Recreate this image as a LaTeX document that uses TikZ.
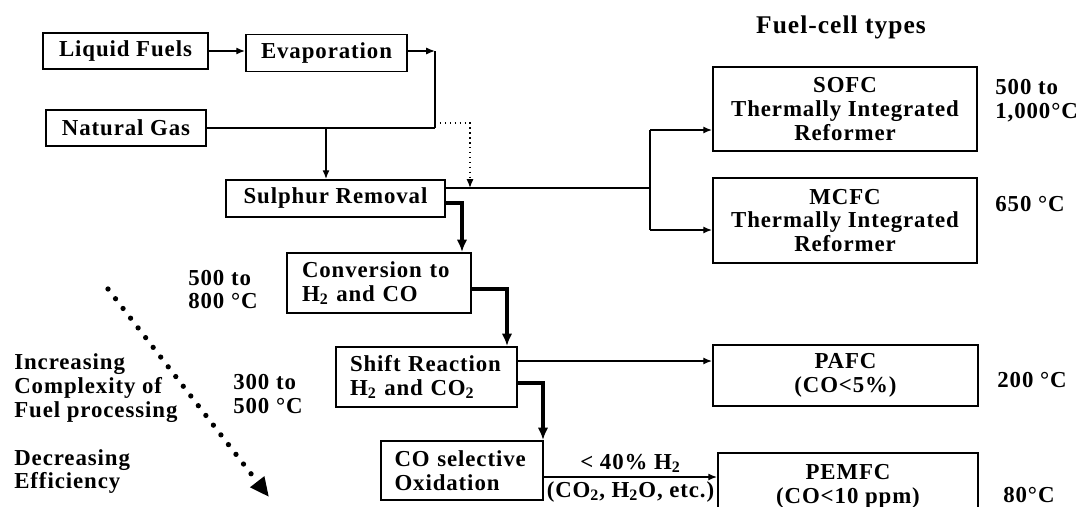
\documentclass[tikz,border=0pt]{standalone}
\usepackage{fontspec}
\setmainfont{Liberation Serif}[LetterSpace=4]
\usetikzlibrary{arrows.meta}

\tikzset{
  box/.style={draw, line width=1.1pt, inner sep=0pt, align=center},
  lbox/.style={box, align=left},
  lbl/.style={inner sep=0pt, anchor=west, align=left},
  arr/.style={line width=0.8pt, -{Latex[length=5pt,width=4pt]}},
  thk/.style={line width=2.4pt, -{Latex[length=7pt,width=6pt]}},
}

\begin{document}
\begin{tikzpicture}[x=0.02cm, y=-0.02cm, every node/.style={font=\fontsize{13}{13.6}\selectfont\bfseries}]
    \clip (0,0) rectangle (1080,507);

    % Brennstoffe
    \node[box, minimum width=3.3cm, minimum height=0.72cm] (lf) at (125.5,51) {Liquid Fuels};
    \node[box, minimum width=3.22cm, minimum height=0.74cm] (evap) at (326.5,53) {Evaporation};
    \node[box, minimum width=3.2cm, minimum height=0.72cm] (ng) at (126,128) {Natural Gas};

    % Aufbereitung
    \node[box, minimum width=4.38cm, minimum height=0.74cm] (sulph) at (335.5,198.5) {Sulphur Removal};
    \node[lbox, minimum width=3.68cm, minimum height=1.2cm, text width=3.08cm] (conv) at (379,283) {Conversion to\\H\textsubscript{2} and CO};
    \node[lbox, minimum width=3.62cm, minimum height=1.2cm, text width=3.06cm] (shift) at (426.5,377) {Shift Reaction\\H\textsubscript{2} and CO\textsubscript{2}};
    \node[lbox, minimum width=3.24cm, minimum height=1.18cm, text width=2.7cm] (coox) at (462,470.5) {CO selective\\Oxidation};

    % Brennstoffzellen
    \node[font=\fontsize{14.5}{15}\selectfont\bfseries] (title) at (841,27) {Fuel-cell types};
    \node[box, minimum width=5.28cm, minimum height=1.68cm] (sofc) at (845,109) {SOFC\\Thermally Integrated\\Reformer};
    \node[box, minimum width=5.28cm, minimum height=1.7cm] (mcfc) at (845,220.5) {MCFC\\Thermally Integrated\\Reformer};
    \node[box, minimum width=5.3cm, minimum height=1.22cm] (pafc) at (845.5,375.5) {PAFC\\(CO<5\%)};
    \node[box, minimum width=5.2cm, minimum height=1.34cm] (pemfc) at (848,486.5) {PEMFC\\(CO<10 ppm)};

    % Temperaturen
    \node[lbl] (t500) at (188,289.5) {500 to\\800 °C};
    \node[lbl] (t300) at (233,394) {300 to\\500 °C};
    \node[lbl] (tsofc) at (995,101) {500 to\\1,000°C};
    \node[lbl] (tmcfc) at (995,204) {650 °C};
    \node[lbl] (tpafc) at (997,380) {200 °C};
    \node[lbl] (tpem) at (1003,495) {80°C};

    % Trend
    \node[lbl] (incr) at (14,388) {Increasing\\Complexity of\\Fuel processing};
    \node[lbl] (decr) at (14,471.5) {Decreasing\\Efficiency};
    \coordinate (da) at (108,289);
    \coordinate (db) at (269,497);
    \draw[line width=3pt, line cap=round, dash pattern=on 0pt off 7pt,
          -{Triangle[length=11pt,width=9.5pt]}] (da) -- (db);

    % Hilfspunkte
    \coordinate (j1) at (435,51);
    \coordinate (j2) at (435,128);
    \coordinate (j3) at (326,128);
    \coordinate (d1) at (435,123);
    \coordinate (d2) at (470,123);
    \coordinate (d3) at (470,188);
    \coordinate (b1) at (650,188);
    \coordinate (b2) at (650,130);
    \coordinate (b3) at (650,230);
    \coordinate (t1) at (462,203);
    \coordinate (t2) at (507,289);
    \coordinate (t3) at (543,383);
    \coordinate (p1) at (600,361);
    \coordinate (q1) at (600,477);

    % Zuleitungen
    \draw[arr] (lf.east) -- (evap.west |- lf.east);
    \draw[arr] (evap.east |- j1) -- (j1);
    \draw[line width=0.8pt] (j1) -- (j2);
    \draw[line width=0.8pt] (ng.east) -- (j2);
    \draw[arr] (j3) -- (j3 |- sulph.north);
    \draw[arr, dotted] (d1) -- (d2) -- (d3);

    % Verteilung
    \draw[line width=0.8pt] (sulph.east |- b1) -- (b1);
    \draw[line width=0.8pt] (b2) -- (b3);
    \draw[arr] (b2) -- (sofc.west |- b2);
    \draw[arr] (b3) -- (mcfc.west |- b3);

    % Hauptstrang
    \draw[thk] (sulph.east |- t1) -- (t1) -- (t1 |- conv.north);
    \draw[thk] (conv.east |- t2) -- (t2) -- (t2 |- shift.north);
    \draw[thk] (shift.east |- t3) -- (t3) -- (t3 |- coox.north);
    \draw[arr] (shift.east |- p1) -- (pafc.west |- p1);
    \draw[arr] (coox.east |- q1) -- node[above, inner sep=2pt] {< 40\% H\textsubscript{2}}
        node[below, inner sep=2pt] {(CO\textsubscript{2}, H\textsubscript{2}O, etc.)} (pemfc.west |- q1);
\end{tikzpicture}
\end{document}
